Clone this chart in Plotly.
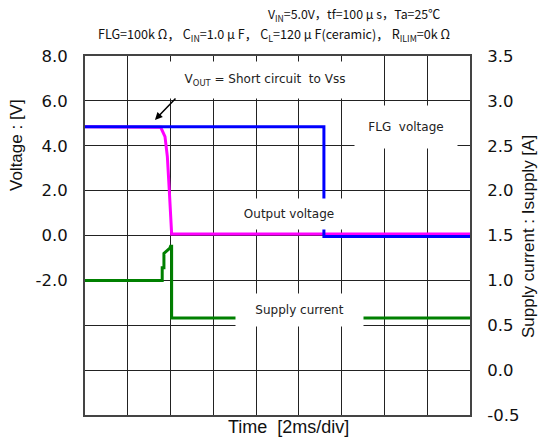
import plotly.graph_objects as go

# ---- data (time in ms, voltage in V, current in A) ----
t_flg = [0, 11.17, 11.17, 18]
v_flg = [4.85, 4.85, -0.05, -0.05]

t_out = [0, 3.54, 3.74, 3.85, 3.94, 4.0, 4.05, 18]
v_out = [4.85, 4.82, 4.41, 3.52, 2.03, 0.55, 0.07, 0.07]

t_cur = [0, 3.61, 3.61, 3.69, 3.69, 3.85, 3.97, 4.0, 4.05, 4.05, 18]
i_cur = [1.0, 1.0, 1.14, 1.14, 1.30, 1.34, 1.36, 1.38, 1.38, 0.58, 0.58]

v_ticks = [-2, 0, 2, 4, 6, 8]
v_ticktext = ["-2.0", "0.0", "2.0", "4.0", "6.0", "8.0"]
i_ticks = [-0.5, 0, 0.5, 1.0, 1.5, 2.0, 2.5, 3.0, 3.5]
i_ticktext = ["-0.5", "0.0", "0.5", "1.0", "1.5", "2.0", "2.5", "3.0", "3.5"]

FONT = "Liberation Sans, Arial, sans-serif"
TFONT = "DejaVu Sans, sans-serif"
JFONT = "Noto Sans CJK JP, sans-serif"
LFONT = "DejaVu Sans, sans-serif"

W, H = 542, 439
PL, PR, PT, PB = 85, 470, 56, 415  # plot area in pixels
PW, PH = PR - PL, PB - PT

fig = go.Figure()
fig.add_trace(go.Scatter(x=t_out, y=v_out, mode="lines", line=dict(color="#ff00ff", width=3), yaxis="y"))
fig.add_trace(go.Scatter(x=t_flg, y=v_flg, mode="lines", line=dict(color="#0000ff", width=3), yaxis="y"))
fig.add_trace(go.Scatter(x=t_cur, y=i_cur, mode="lines", line=dict(color="#008000", width=3), yaxis="y2"))

gridc = "#222222"
fig.update_layout(
    width=W, height=H,
    margin=dict(l=PL, r=W - PR, t=PT, b=H - PB, pad=0),
    paper_bgcolor="white", plot_bgcolor="white",
    showlegend=False,
    xaxis=dict(range=[0, 18], dtick=2, showticklabels=False, showgrid=True,
               gridcolor=gridc, gridwidth=1, zeroline=False,
               showline=True, mirror=True, linecolor="#444444", linewidth=2, ticks=""),
    yaxis=dict(range=[-8, 8], tickvals=v_ticks, ticktext=v_ticktext, showgrid=False,
               zeroline=False, showline=True, linecolor="#444444", linewidth=2,
               tickfont=dict(family=TFONT, size=16.5, color="#111111"), ticks="",
               ticklabelstandoff=12),
    yaxis2=dict(range=[-0.5, 3.5], tickvals=i_ticks, ticktext=i_ticktext, overlaying="y",
                side="right", showgrid=True, gridcolor=gridc, gridwidth=1, zeroline=False,
                showline=True, linecolor="#444444", linewidth=2,
                tickfont=dict(family=TFONT, size=16.5, color="#111111"), ticks="",
                ticklabelstandoff=12),
)


def px(x):
    return (x - PL) / PW


def py(y):
    return 1 - (y - PT) / PH


anns = []
# header
anns.append(dict(text="V<sub>IN</sub>=5.0V，tf=100 μ s，Ta=25\u2103", xref="paper", yref="paper",
                 x=px(442), y=py(14), xanchor="right", yanchor="middle",
                 showarrow=False, font=dict(family=JFONT, size=12.3, color="#111111")))
anns.append(dict(text="FLG=100k Ω， C<sub>IN</sub>=1.0 μ F， C<sub>L</sub>=120 μ F(ceramic)， R<sub>ILIM</sub>=0k Ω",
                 xref="paper", yref="paper",
                 x=px(452), y=py(34), xanchor="right", yanchor="middle",
                 showarrow=False, font=dict(family=JFONT, size=12.6, color="#111111")))
# axis titles
anns.append(dict(text="Voltage : [V]", xref="paper", yref="paper", x=px(16), y=py(145),
                 textangle=-90, showarrow=False, xanchor="center", yanchor="middle",
                 font=dict(family=FONT, size=17, color="#111111")))
anns.append(dict(text="Supply current : Isupply [A]", xref="paper", yref="paper", x=px(528), y=py(237),
                 textangle=-90, showarrow=False, xanchor="center", yanchor="middle",
                 font=dict(family=FONT, size=17, color="#111111")))
anns.append(dict(text="Time\u00a0\u00a0[2ms/div]", xref="paper", yref="paper", x=px(288), y=py(427),
                 showarrow=False, xanchor="center", yanchor="middle",
                 font=dict(family=FONT, size=18, color="#111111")))
# in-plot labels with white boxes
lab = dict(showarrow=False, bgcolor="white", xref="x", yref="y",
           font=dict(family=LFONT, size=12, color="#222222"))
anns.append(dict(lab, text="V<sub>OUT</sub> = Short circuit\u00a0\u00a0to Vss", x=8.41, y=6.93, width=190, height=34))
anns.append(dict(lab, text="FLG\u00a0\u00a0voltage", x=15.0, y=4.85, width=100, height=40))
anns.append(dict(lab, text="Output voltage", x=9.54, y=0.96, width=110, height=28))
anns.append(dict(lab, text="Supply current", x=10.05, y=-3.31, width=125, height=30))
# arrow
anns.append(dict(text="", x=3.27, y=5.15, xref="x", yref="y", ax=22, ay=-23,
                 showarrow=True, arrowhead=2, arrowsize=1, arrowwidth=1.5, arrowcolor="black"))
fig.update_layout(annotations=anns)

# remove the default 8px page margin so the figure fills the window exactly
fig.write_html("out.html", config={"displayModeBar": False},
               post_script="document.body.style.margin='0';")
